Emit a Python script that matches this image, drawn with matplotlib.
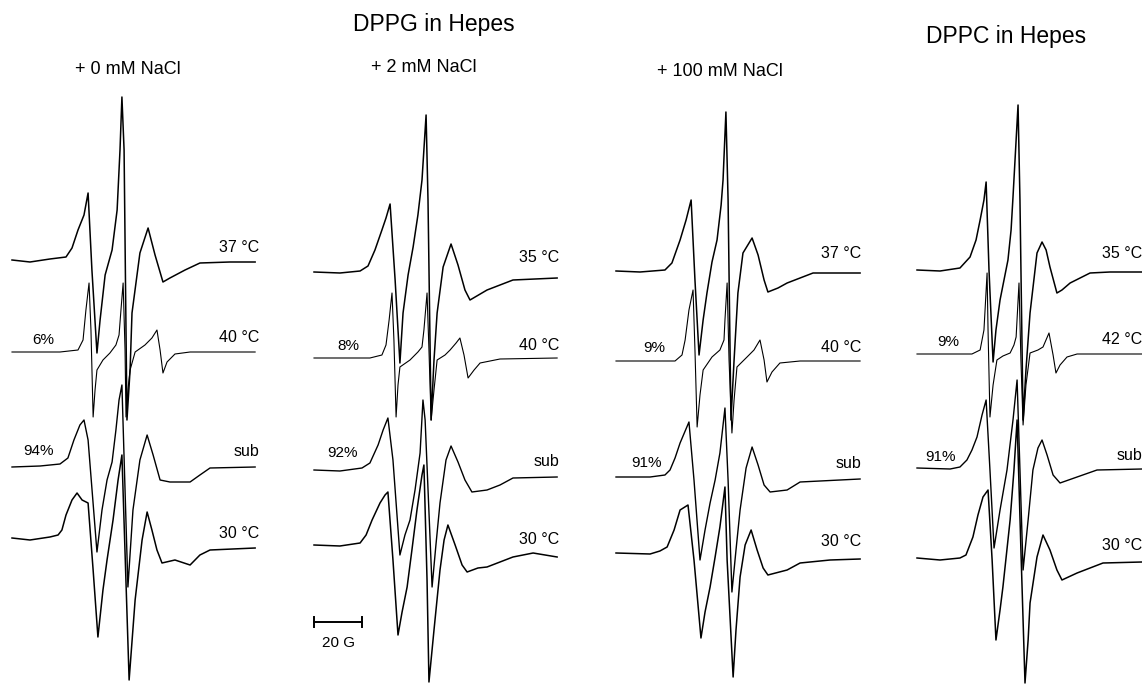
import matplotlib.pyplot as plt

plt.rcParams['font.family'] = ['Liberation Sans', 'DejaVu Sans']

# EPR spectra
# field: G from the left end of each sweep, signal: a.u. relative to baseline

# --- DPPG + 0 mM NaCl ---
p1_hi_g = [0, 7.5, 15.8, 22.5, 25, 27.5, 30, 31.7, 33.3, 35.4, 36.7, 38.8, 41.7, 43.8, 45, 45.8, 46.7, 47.9,
           49.2, 50, 53.3, 56.7, 59.6, 62.9, 65.8, 72.1, 78.3, 90.8, 101.3]
p1_hi_s = [0, -2, 1, 3, 12, 30, 45, 67, -10, -93, -60, -15, 10, 50, 110, 163, 110, -160,
           -110, -53, 7, 32, 5, -22, -18, -10, -3, -2, -2]
p1_fl_g = [0, 20, 27.5, 29.6, 30.8, 32.1, 32.9, 33.8, 34.6, 35.4, 37.9, 40.8, 43.3, 44.6, 45.4, 46.3, 47.1,
           47.5, 48.3, 49.2, 51.3, 55.4, 58.3, 60.4, 61.7, 62.9, 64.6, 67.9, 74.2, 101.3]
p1_fl_s = [0, 0, 2, 12, 42, 69, 22, -65, -38, -18, -8, -1, 7, 17, 42, 69, 2,
           -65, -38, -18, 0, 7, 14, 22, 2, -21, -10, -2, 0, 0]
p1_sub_g = [0, 11.7, 20, 23.3, 25.8, 28.3, 30, 31.7, 35.4, 37.5, 39.6, 41.7, 43.3, 44.6, 45.8, 48.3, 50.4,
            53.3, 56.3, 58.8, 61.7, 65.8, 74.2, 78.3, 82.5, 101.3]
p1_sub_s = [0, 1, 3, 9, 27, 42, 47, 27, -85, -43, -13, 5, 37, 67, 82, -120, -43,
            7, 32, 12, -13, -15, -15, -8, -1, 0]
p1_lo_g = [0, 7.5, 15.8, 19.2, 20.8, 22.5, 25, 27.1, 29.2, 31.7, 33.8, 35.8, 37.9, 39.6, 42.1, 44.2, 45.8,
           48.8, 51.3, 54.2, 56.3, 58.3, 60.4, 62.5, 67.9, 74.2, 78.3, 82.5, 101.3]
p1_lo_s = [0, -2, 1, 3, 8, 23, 38, 45, 38, 35, -32, -99, -52, -22, 18, 58, 83,
           -142, -62, -2, 26, 8, -12, -25, -22, -27, -17, -12, -10]

# --- DPPG + 2 mM NaCl ---
p2_hi_g = [0, 10.8, 19.2, 22.5, 25.4, 28.3, 30, 31.7, 33.8, 35.8, 37.1, 39.2, 41.3, 43.3, 45, 46.7, 47.5,
           48.8, 50, 51.3, 53.8, 57.1, 60, 62.9, 65, 72.1, 82.9, 101.3]
p2_hi_s = [0, -1, 1, 6, 22, 42, 54, 68, -8, -91, -41, -3, 25, 57, 92, 157, 72,
           -148, -88, -41, 5, 28, 7, -18, -28, -18, -8, -6]
p2_fl_g = [0, 23.3, 28.3, 30, 31.3, 32.5, 33.3, 34.2, 35, 35.8, 40, 43.3, 45, 45.8, 47.1, 47.9, 48.8,
           50, 51.3, 54.6, 56.7, 59.2, 60.8, 62.5, 64.2, 66.7, 69.2, 77.5, 101.3]
p2_fl_s = [0, 0, 3, 13, 38, 65, 18, -59, -27, -9, -2, 6, 11, 28, 65, 8, -62,
           -32, -2, 3, 8, 15, 20, 3, -20, -12, -5, -1, 0]
p2_sub_g = [0, 10.8, 20, 23.3, 26.7, 28.8, 30.8, 32.9, 35.8, 37.9, 40, 42.1, 44.2, 45.4, 46.3, 49.2, 50.8,
            52.5, 55, 57.1, 60, 62.9, 65.8, 72.1, 77.5, 82.9, 101.3]
p2_sub_s = [0, -1, 2, 7, 25, 40, 52, 10, -85, -65, -50, -20, 17, 70, 50, -117, -75,
            -33, 10, 24, 8, -10, -22, -20, -15, -8, -7]
p2_lo_g = [0, 10.8, 19.2, 21.7, 24.2, 27.5, 29.6, 30.8, 32.9, 35, 36.7, 38.8, 40.8, 42.9, 45, 45.8, 47.1,
           47.9, 50, 52.5, 54.2, 55.8, 58.8, 61.7, 63.8, 68.3, 72.1, 77.5, 82.9, 91.3, 101.3]
p2_lo_s = [0, -1, 2, 10, 25, 42, 50, 53, -15, -90, -67, -42, -5, 35, 70, 80, -35,
           -137, -85, -25, 5, 20, 0, -20, -27, -23, -22, -17, -12, -8, -12]

# --- DPPG + 100 mM NaCl ---
p3_hi_g = [0, 10, 20.4, 23.3, 26.7, 29.2, 31.3, 32.9, 34.6, 36.3, 37.9, 40, 42.1, 43.8, 44.6, 45.8, 46.7,
           47.9, 49.2, 50.8, 52.9, 56.7, 59.2, 61.7, 63.3, 67.5, 71.3, 76.7, 82.1, 101.7]
p3_hi_s = [0, -1, 1, 8, 31, 51, 71, -9, -84, -49, -22, 9, 31, 66, 91, 159, 71,
           -149, -89, -22, 18, 33, 16, -9, -21, -17, -12, -7, -2, -2]
p3_fl_g = [0, 24.6, 27.5, 28.8, 30.4, 32.1, 32.9, 33.8, 35, 36.3, 40, 43.3, 45, 45.4, 46.3, 47.1, 48.3,
           49.2, 50.4, 54.6, 57.5, 60, 61.7, 62.9, 65, 68.3, 76.7, 101.7]
p3_fl_s = [0, 0, 6, 21, 51, 71, 11, -66, -34, -9, 4, 11, 21, 41, 78, 1, -72,
           -39, -6, 4, 11, 21, 1, -21, -11, -2, 0, 0]
p3_sub_g = [0, 14.2, 20.4, 22.5, 24.6, 26.7, 30.4, 32.5, 35, 37.1, 39.2, 41.3, 43.3, 45.4, 46.7, 48.3, 50,
            51.7, 54.2, 56.7, 59.2, 61.7, 64.2, 71.3, 76.7, 101.7]
p3_sub_s = [0, 0, 2, 7, 19, 34, 55, -3, -83, -53, -26, -3, 24, 69, -3, -115, -73,
            -33, 9, 30, 12, -8, -15, -13, -5, -2]
p3_lo_g = [0, 14.2, 18.3, 21.3, 24.2, 26.7, 30, 32.5, 35.4, 37.1, 39.2, 41.3, 43.3, 45.4, 46.3, 48.8, 50,
           51.7, 53.8, 56.3, 58.8, 61.3, 63.3, 71.3, 76.7, 89.2, 101.7]
p3_lo_s = [0, -1, 2, 6, 23, 43, 48, -7, -85, -59, -34, -4, 26, 66, -7, -124, -77,
           -24, 8, 23, 3, -15, -22, -17, -10, -7, -6]

# --- DPPC in Hepes ---
p4_hi_g = [0, 9.6, 17.9, 22.1, 24.6, 26.3, 27.9, 28.8, 30, 31.7, 32.9, 34.6, 37.9, 39.2, 40, 41.3, 42.1,
           42.9, 44.2, 45.4, 47.1, 50, 52.1, 53.8, 55.4, 58.3, 60.4, 63.8, 72.1, 80.4, 93.8]
p4_hi_s = [0, -1, 2, 13, 30, 50, 70, 88, 0, -92, -60, -30, 10, 40, 73, 130, 165,
           70, -150, -100, -43, 17, 28, 20, 3, -23, -20, -13, -3, -2, -2]
p4_fl_g = [0, 22.9, 26.3, 27.9, 29.2, 29.6, 30.4, 31.7, 33.3, 35.8, 38.8, 40.4, 41.3, 42.5, 43.3, 44.2,
           45.4, 47.1, 50.4, 52.5, 55, 56.7, 57.9, 59.6, 62.5, 66.7, 93.8]
p4_fl_s = [0, 0, 4, 24, 81, 24, -63, -31, -6, -2, 1, 9, 17, 71, -6, -71,
           -31, 1, 4, 7, 21, -1, -19, -11, -3, 0, 0]
p4_sub_g = [0, 13.8, 17.9, 20.8, 22.9, 25, 27.1, 28.8, 30.4, 32.1, 34.6, 37.5, 40, 41.7, 42.9, 44.2, 46.3,
            48.3, 50.4, 52.1, 54.2, 56.7, 59.6, 66.7, 75, 93.8]
p4_sub_s = [0, -1, 1, 8, 18, 31, 53, 68, -2, -80, -42, -2, 48, 88, -2, -102, -52,
            -2, 20, 28, 13, -7, -15, -9, -2, -1]
p4_lo_g = [0, 9.6, 17.9, 20.4, 23.3, 25.4, 27.5, 29.6, 31.3, 32.9, 34.6, 35.8, 38.8, 40.4, 41.7, 43.3, 45,
           46.3, 47.1, 50, 52.5, 55.4, 58.3, 60.4, 66.7, 77.5, 93.8]
p4_lo_s = [0, -2, 0, 3, 21, 43, 61, 68, -2, -82, -52, -29, 38, 88, 138, 8, -125,
           -82, -45, 1, 23, 8, -12, -22, -15, -5, -4]

panel_titles = ['+ 0 mM NaCl', '+ 2 mM NaCl', '+ 100 mM NaCl', '']
trace_labels = [['37 °C', '40 °C', 'sub', '30 °C'],
                ['35 °C', '40 °C', 'sub', '30 °C'],
                ['37 °C', '40 °C', 'sub', '30 °C'],
                ['35 °C', '42 °C', 'sub', '30 °C']]
fluid_pct = ['6%', '8%', '9%', '9%']
gel_pct = ['94%', '92%', '91%', '91%']
scale_bar_G = 20

spectra = [
    [(p1_hi_g, p1_hi_s), (p1_fl_g, p1_fl_s), (p1_sub_g, p1_sub_s), (p1_lo_g, p1_lo_s)],
    [(p2_hi_g, p2_hi_s), (p2_fl_g, p2_fl_s), (p2_sub_g, p2_sub_s), (p2_lo_g, p2_lo_s)],
    [(p3_hi_g, p3_hi_s), (p3_fl_g, p3_fl_s), (p3_sub_g, p3_sub_s), (p3_lo_g, p3_lo_s)],
    [(p4_hi_g, p4_hi_s), (p4_fl_g, p4_fl_s), (p4_sub_g, p4_sub_s), (p4_lo_g, p4_lo_s)],
]

# layout (figure pixels, 2.4 px per G)
W, H = 1142, 686
PX = 2.4
panel_x0 = [12, 314, 616, 917]
baselines = [[260, 352, 467, 538], [272, 358, 470, 545], [271, 361, 477, 553], [270, 354, 468, 558]]
label_y = [[248, 338, 452, 533], [257, 345, 462, 540], [253, 347, 463, 542], [253, 340, 455, 545]]
label_xr = [259, 559, 861, 1142]
fl_pos = [(43, 340), (348, 346), (654, 348), (948, 342)]
gel_pos = [(38, 451), (342, 453), (646, 463), (940, 457)]
sub_title_pos = [(128, 70), (424, 68), (720, 72)]
lws = [1.1, 0.8, 1.0, 1.1]

fig = plt.figure(figsize=(W / 100, H / 100), dpi=100)
ax = fig.add_axes([0, 0, 1, 1])
ax.set_xlim(0, W / PX)
ax.set_ylim(-H, 0)
ax.axis('off')

for i, panel in enumerate(spectra):
    for j, (g, s) in enumerate(panel):
        x = [panel_x0[i] / PX + v for v in g]
        y = [-baselines[i][j] + v for v in s]
        ax.plot(x, y, color='black', lw=lws[j], solid_joinstyle='round')
        ax.text(label_xr[i] / PX, -label_y[i][j], trace_labels[i][j], ha='right', va='center', fontsize=11.5)
    ax.text(fl_pos[i][0] / PX, -fl_pos[i][1], fluid_pct[i], ha='center', va='center', fontsize=11)
    ax.text(gel_pos[i][0] / PX, -gel_pos[i][1], gel_pct[i], ha='center', va='center', fontsize=11)

for k, t in enumerate(panel_titles[:3]):
    ax.text(sub_title_pos[k][0] / PX, -sub_title_pos[k][1], t, ha='center', va='center', fontsize=13)

ax.text(434 / PX, -24, 'DPPG in Hepes', ha='center', va='center', fontsize=16.5)
ax.text(1006 / PX, -37, 'DPPC in Hepes', ha='center', va='center', fontsize=16.5)

# 20 G scale bar under the second panel
x0 = panel_x0[1] / PX
ax.plot([x0, x0 + scale_bar_G], [-622, -622], color='black', lw=1.4)
ax.plot([x0, x0], [-617, -627], color='black', lw=1.4)
ax.plot([x0 + scale_bar_G, x0 + scale_bar_G], [-617, -627], color='black', lw=1.4)
ax.text(x0 + scale_bar_G / 2, -643, f'{scale_bar_G} G', ha='center', va='center', fontsize=11)

plt.savefig('out.png', dpi=100)
